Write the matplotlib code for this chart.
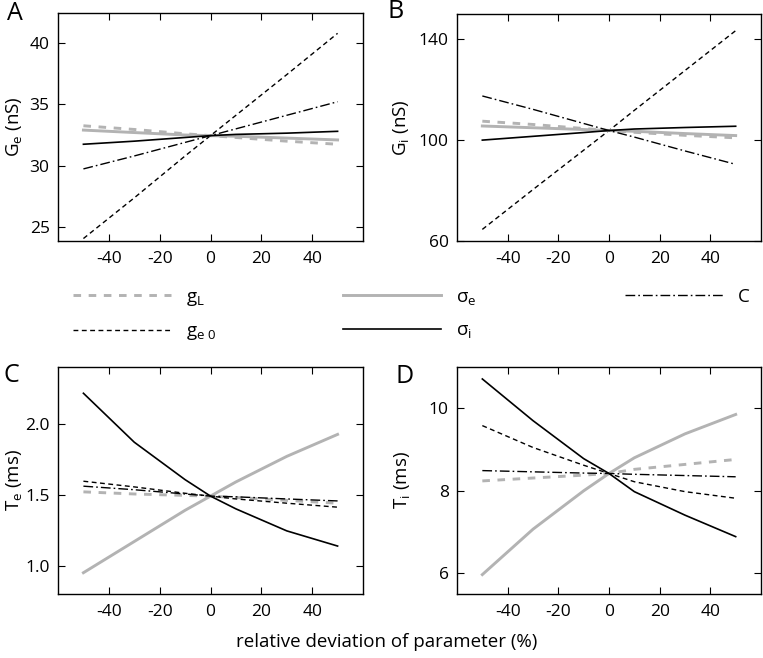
import matplotlib
matplotlib.use("Agg")
import matplotlib.pyplot as plt

plt.rcParams['font.family'] = ['Open Sans', 'DejaVu Sans']
plt.rcParams['mathtext.fontset'] = 'custom'
plt.rcParams['mathtext.rm'] = 'Open Sans'
plt.rcParams['mathtext.it'] = 'Open Sans'
plt.rcParams['mathtext.default'] = 'regular'

x = [-50, -30, -10, 0, 10, 30, 50]

# Panel A: G_e (nS)
A_gL  = [33.25, 32.95, 32.6, 32.45, 32.3, 32.0, 31.75]
A_ge0 = [24.1, 27.4, 30.8, 32.45, 34.1, 37.4, 40.75]
A_se  = [32.9, 32.7, 32.5, 32.45, 32.4, 32.25, 32.1]
A_si  = [31.75, 32.0, 32.3, 32.45, 32.55, 32.65, 32.8]
A_C   = [29.75, 30.8, 31.9, 32.45, 33.0, 34.1, 35.2]

# Panel B: G_i (nS)
B_gL  = [107.5, 106.2, 104.6, 103.8, 103.1, 101.9, 100.9]
B_ge0 = [64.6, 80.4, 96.0, 103.8, 111.8, 127.6, 143.4]
B_se  = [105.6, 104.9, 104.2, 103.8, 103.5, 102.6, 101.8]
B_si  = [100.0, 101.5, 103.0, 103.8, 104.4, 105.0, 105.5]
B_C   = [117.5, 112.2, 106.6, 103.8, 101.2, 95.7, 90.4]

# Panel C: T_e (ms)
C_gL  = [1.52, 1.505, 1.495, 1.49, 1.48, 1.46, 1.44]
C_ge0 = [1.595, 1.555, 1.51, 1.49, 1.47, 1.44, 1.412]
C_se  = [0.95, 1.17, 1.39, 1.49, 1.59, 1.77, 1.925]
C_si  = [2.215, 1.87, 1.606, 1.49, 1.40, 1.245, 1.138]
C_C   = [1.56, 1.535, 1.505, 1.49, 1.485, 1.47, 1.456]

# Panel D: T_i (ms)
D_gL  = [8.24, 8.31, 8.38, 8.42, 8.52, 8.64, 8.76]
D_ge0 = [9.58, 9.05, 8.62, 8.42, 8.22, 7.98, 7.82]
D_se  = [5.97, 7.07, 8.0, 8.42, 8.8, 9.38, 9.85]
D_si  = [10.71, 9.70, 8.78, 8.42, 7.98, 7.41, 6.89]
D_C   = [8.49, 8.46, 8.43, 8.42, 8.40, 8.37, 8.34]

xticks = [-40, -20, 0, 20, 40]
labels = ['$g_L$', '$g_{e\\ 0}$', '$\\sigma_e$', '$\\sigma_i$', 'C']

GRAY = '#b3b3b3'
styles = {
    'gL':  dict(color=GRAY, lw=2.1, ls=(0, (2.6, 2.6))),
    'ge0': dict(color='black', lw=1.0, ls=(0, (3.5, 2.5))),
    'se':  dict(color=GRAY, lw=2.1, ls='-'),
    'si':  dict(color='black', lw=1.2, ls='-'),
    'C':   dict(color='black', lw=1.0, ls=(0, (7, 2.2, 1.2, 2.2))),
}

fig = plt.figure(figsize=(7.63, 6.58), dpi=100)
W, H = 763, 658

def make_ax(l, t, r, b):
    return fig.add_axes([l / W, 1 - b / H, (r - l) / W, (b - t) / H])

axA = make_ax(58, 13, 363, 241)
axB = make_ax(457, 14, 761, 241)
axC = make_ax(58, 367, 363, 594)
axD = make_ax(457, 367, 761, 594)

panels = [
    (axA, [A_gL, A_ge0, A_se, A_si, A_C], (23.9, 42.4), [25, 30, 35, 40], ['25', '30', '35', '40'], '$G_e$ (nS)', 'A', (15, 20), -0.145),
    (axB, [B_gL, B_ge0, B_se, B_si, B_C], (60, 150), [60, 100, 140], ['60', '100', '140'], '$G_i$ (nS)', 'B', (396, 18), -0.185),
    (axC, [C_gL, C_ge0, C_se, C_si, C_C], (0.8, 2.4), [1.0, 1.5, 2.0], ['1.0', '1.5', '2.0'], '$T_e$ (ms)', 'C', (11, 382), -0.145),
    (axD, [D_gL, D_ge0, D_se, D_si, D_C], (5.5, 11.0), [6, 8, 10], ['6', '8', '10'], '$T_i$ (ms)', 'D', (405, 383), -0.18),
]

keys = ['gL', 'ge0', 'se', 'si', 'C']
handles = None
for ax, series, ylim, yt, ytl, ylab, letter, lpos, ylx in panels:
    hs = []
    for k, s, lab in zip(keys, series, labels):
        h, = ax.plot(x, s, label=lab, **styles[k])
        hs.append(h)
    handles = hs
    ax.set_xlim(-60, 60)
    ax.set_ylim(*ylim)
    ax.set_xticks(xticks)
    ax.set_xticklabels([str(v) for v in xticks])
    ax.set_yticks(yt)
    ax.set_yticklabels(ytl)
    ax.tick_params(direction='in', top=True, right=True, length=5, width=0.8,
                   labelsize=12.5)
    ax.tick_params(axis='x', pad=7)
    ax.tick_params(axis='y', pad=6)
    for sp in ax.spines.values():
        sp.set_linewidth(1.0)
    ax.set_ylabel(ylab, fontsize=13.5, va='center')
    ax.yaxis.set_label_coords(ylx, 0.5)
    fig.text(lpos[0] / W, 1 - lpos[1] / H, letter, fontsize=18,
             ha='center', va='baseline')

fig.text(387 / W, 1 - 642 / H, 'relative deviation of parameter (%)',
         ha='center', va='center', fontsize=13.5)

leg_kw = dict(frameon=False, fontsize=13.5, handlelength=5.2, handletextpad=0.8,
              labelspacing=0.75, borderpad=0, borderaxespad=0, loc='upper left')
fig.legend([handles[0], handles[1]], [labels[0], labels[1]],
           bbox_to_anchor=(73 / W, 1 - 288 / H), **leg_kw)
fig.legend([handles[2], handles[3]], [labels[2], labels[3]],
           bbox_to_anchor=(343 / W, 1 - 288 / H), **leg_kw)
fig.legend([handles[4]], [labels[4]],
           bbox_to_anchor=(625 / W, 1 - 288 / H), **leg_kw)

fig.savefig('out.png', dpi=100)
